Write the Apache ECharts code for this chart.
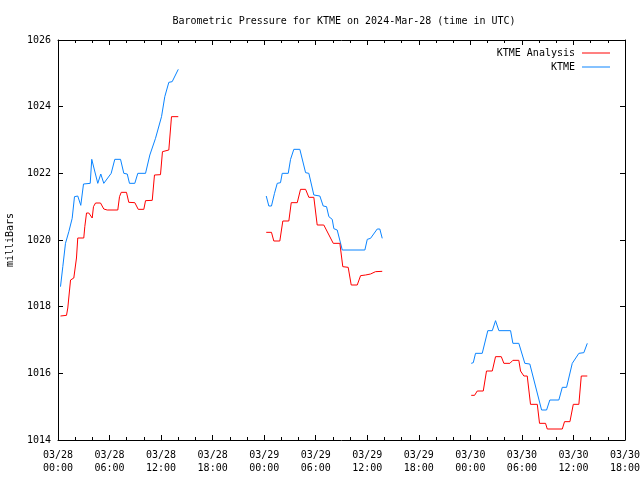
<!DOCTYPE html>
<html><head><meta charset="utf-8">
<script src="https://cdn.jsdelivr.net/npm/echarts@6/dist/echarts.min.js"></script>
<style>html,body{margin:0;padding:0;background:#fff}#c{width:640px;height:480px}</style>
</head><body><div id="c"></div>
<script>
// Time in hours since 2024-03-28 00:00 UTC
const xTickLabels = ['03/28\n00:00','03/28\n06:00','03/28\n12:00','03/28\n18:00','03/29\n00:00','03/29\n06:00','03/29\n12:00','03/29\n18:00','03/30\n00:00','03/30\n06:00','03/30\n12:00','03/30\n18:00'];

// KTME Analysis (red)
const anaT1 = [0.29,0.99,1.14,1.46,1.84,2.04,2.15,2.3,3.0,3.12,3.32,3.59,3.98,4.13,4.37,4.95,5.33,5.73,6.96,7.16,7.36,7.97,8.24,8.94,9.34,9.99,10.19,10.97,11.23,11.93,12.16,12.9,13.21,14.0];
const anaV1 = [1017.72,1017.74,1017.96,1018.8,1018.86,1018.86,1019.46,1020.06,1020.06,1020.4,1020.81,1020.81,1020.66,1021.0,1021.11,1021.11,1020.93,1020.9,1020.9,1021.3,1021.43,1021.43,1021.13,1021.12,1020.92,1020.92,1021.18,1021.19,1021.95,1021.96,1022.65,1022.7,1023.7,1023.7];
const anaT2 = [24.24,24.85,25.12,25.82,26.17,26.87,27.15,27.85,28.23,28.82,29.2,29.78,30.17,30.94,31.14,32.04,32.81,33.15,33.78,34.13,34.83,35.22,35.8,36.38,36.96,37.74];
const anaV2 = [1020.23,1020.23,1019.97,1019.97,1020.57,1020.57,1021.12,1021.12,1021.52,1021.52,1021.28,1021.28,1020.45,1020.45,1020.5,1019.9,1019.9,1019.2,1019.18,1018.65,1018.65,1018.93,1018.95,1018.98,1019.05,1019.06];
const anaT3 = [48.1,48.49,48.8,49.5,49.88,50.55,50.93,51.6,51.9,52.6,52.95,53.64,53.84,54.23,54.62,55.0,55.79,56.05,56.75,56.95,58.7,58.96,59.59,59.98,60.63,60.91,61.61];
const anaV3 = [1015.34,1015.34,1015.47,1015.47,1016.07,1016.07,1016.5,1016.5,1016.3,1016.3,1016.39,1016.39,1016.07,1015.92,1015.92,1015.07,1015.07,1014.5,1014.5,1014.33,1014.33,1014.55,1014.55,1015.07,1015.07,1015.92,1015.92];

// KTME observed (blue)
const obsT1 = [0.29,0.56,0.87,1.26,1.65,1.92,2.3,2.65,2.97,3.75,3.93,4.63,4.98,5.33,6.19,6.61,7.28,7.66,8.06,8.32,8.94,9.29,10.19,10.69,11.35,12.05,12.43,12.9,13.29,14.0];
const obsV1 = [1018.6,1019.2,1019.9,1020.25,1020.65,1021.3,1021.32,1021.04,1021.68,1021.7,1022.42,1021.7,1021.98,1021.7,1022.0,1022.42,1022.42,1022.0,1021.98,1021.7,1021.7,1022.0,1022.0,1022.55,1023.05,1023.7,1024.3,1024.73,1024.75,1025.12];
const obsT2 = [24.24,24.54,24.85,25.2,25.52,25.9,26.1,26.8,27.07,27.45,28.15,28.82,29.2,29.78,30.48,30.87,31.26,31.53,31.92,32.11,32.5,33.09,35.72,36.0,36.38,37.16,37.46,37.74];
const obsV2 = [1021.32,1021.02,1021.02,1021.4,1021.7,1021.72,1022.0,1022.0,1022.42,1022.72,1022.72,1022.02,1022.0,1021.35,1021.32,1021.02,1021.0,1020.7,1020.62,1020.34,1020.3,1019.7,1019.7,1020.02,1020.05,1020.33,1020.33,1020.05];
const obsT3 = [48.1,48.34,48.6,49.38,50.03,50.55,50.93,51.32,52.68,52.95,53.64,54.34,54.92,56.29,56.87,57.25,58.3,58.7,59.2,59.86,60.63,61.21,61.61];
const obsV3 = [1016.3,1016.32,1016.6,1016.6,1017.28,1017.28,1017.58,1017.28,1017.28,1016.9,1016.9,1016.3,1016.28,1014.9,1014.9,1015.2,1015.2,1015.58,1015.58,1016.3,1016.6,1016.62,1016.9];

const zip = (t, v) => t.map((x, i) => [x, v[i]]);
const FONT = 'DejaVu Sans Mono';
const RED = '#ff0000', BLUE = '#0a84ff';

function seg(name, color, t, v) {
  return { name, type: 'line', data: zip(t, v), showSymbol: false, symbol: 'none',
    lineStyle: { color, width: 1 }, itemStyle: { color }, animation: false, silent: true };
}

const tickCommon = { show: true, inside: true, length: 5, lineStyle: { color: '#000', width: 1 } };
const minorCommon = { show: true, splitNumber: 3, length: 3, lineStyle: { color: '#000', width: 1 } };

const chart = echarts.init(document.getElementById('c'), null, { renderer: 'canvas' });
chart.setOption({
  animation: false,
  backgroundColor: '#fff',
  textStyle: { fontFamily: FONT },
  title: { text: 'Barometric Pressure for KTME on 2024-Mar-28 (time in UTC)', left: 339, top: 11, textAlign: 'center',
    textStyle: { fontFamily: FONT, fontSize: 10, fontWeight: 'normal', color: '#000' } },
  legend: {
    orient: 'vertical', right: 25, top: 43, align: 'right', itemGap: 4, itemWidth: 28, itemHeight: 10,
    icon: 'path://M0,5L28,5L28,6L0,6Z',
    textStyle: { fontFamily: FONT, fontSize: 10, color: '#000', padding: [0, 2, 0, 0] },
    data: [{ name: 'KTME Analysis', itemStyle: { color: RED } }, { name: 'KTME', itemStyle: { color: BLUE } }],
    selectedMode: false
  },
  grid: { left: 58, right: 15, top: 40, bottom: 40, show: false, containLabel: false, outerBoundsMode: 'none' },
  xAxis: [
    { type: 'value', min: 0, max: 66, interval: 6, position: 'bottom',
      axisLine: { show: true, onZero: false, lineStyle: { color: '#000', width: 1 } },
      axisTick: tickCommon, minorTick: minorCommon, splitLine: { show: false },
      axisLabel: { fontFamily: FONT, fontSize: 10, color: '#000', margin: 9, lineHeight: 13,
        formatter: v => xTickLabels[Math.round(v / 6)] } },
    { type: 'value', min: 0, max: 66, interval: 6, position: 'top',
      axisLine: { show: true, onZero: false, lineStyle: { color: '#000', width: 1 } },
      axisTick: tickCommon, minorTick: minorCommon, splitLine: { show: false }, axisLabel: { show: false } }
  ],
  yAxis: [
    { type: 'value', min: 1014, max: 1026, interval: 2, position: 'left',
      name: 'milliBars', nameLocation: 'middle', nameRotate: 90, nameGap: 43,
      nameTextStyle: { fontFamily: FONT, fontSize: 10, color: '#000' },
      axisLine: { show: true, onZero: false, lineStyle: { color: '#000', width: 1 } },
      axisTick: tickCommon, splitLine: { show: false },
      axisLabel: { fontFamily: FONT, fontSize: 10, color: '#000', margin: 7, formatter: v => String(v) } },
    { type: 'value', min: 1014, max: 1026, interval: 2, position: 'right',
      axisLine: { show: true, onZero: false, lineStyle: { color: '#000', width: 1 } },
      axisTick: tickCommon, splitLine: { show: false }, axisLabel: { show: false } }
  ],
  series: [
    seg('KTME', BLUE, obsT1, obsV1),
    seg('KTME', BLUE, obsT2, obsV2),
    seg('KTME', BLUE, obsT3, obsV3),
    seg('KTME Analysis', RED, anaT1, anaV1),
    seg('KTME Analysis', RED, anaT2, anaV2),
    seg('KTME Analysis', RED, anaT3, anaV3)
  ]
});
</script></body></html>
